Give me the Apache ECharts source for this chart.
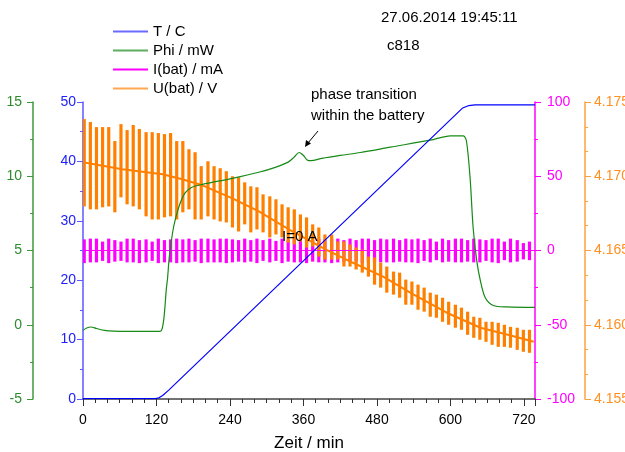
<!DOCTYPE html>
<html>
<head>
<meta charset="utf-8">
<script src="https://cdn.jsdelivr.net/npm/echarts@6/dist/echarts.min.js"></script>
<style>
  html, body { margin: 0; padding: 0; background: #fff; }
  #chart { width: 625px; height: 452px; }
</style>
</head>
<body>
<div id="chart"></div>
<script>
// T / C  [min, C]
const tempPts = [[0, 0.05], [118, 0.05], [124, 0.2], [130, 0.6], [140, 1.5], [620, 49.0], [630, 49.4], [640, 49.5], [738, 49.5]]
// Phi / mW  [min, mW]
const phiPts = [[0, -0.38], [6, -0.22], [13, -0.15], [22, -0.25], [35, -0.38], [50, -0.43], [100, -0.45], [126, -0.45],
  [129, -0.3], [132, 0.4], [134, 1.3], [136, 2.4], [138, 3.1], [141, 4.6], [148, 6.6], [157, 8.0], [167, 8.9], [178, 9.26],
  [195, 9.45], [244, 9.86], [287, 10.27], [314, 10.6], [335, 10.95], [345, 11.3], [353, 11.6], [360, 11.4], [366, 11.1],
  [372, 11.05], [390, 11.2], [420, 11.4], [453, 11.6], [502, 11.96], [567, 12.43], [600, 12.72], [621, 12.72], [626, 12.39],
  [632, 9.91], [637, 6.53], [643, 4.28], [649, 2.93], [657, 1.8], [670, 1.3], [692, 1.2], [738, 1.17]]
// U(bat) / V, mean trace
const uPts = [[0, 4.17095], [64, 4.17047], [130, 4.17013], [162, 4.1698], [195, 4.16939], [244, 4.16851], [287, 4.16764],
  [342, 4.16628], [396, 4.16507], [440, 4.16419], [490, 4.16324], [540, 4.16203], [594, 4.16081], [649, 4.1598],
  [700, 4.15926], [736, 4.15885]]
// I(bat) / mA, trace between pulses
const iPts = [[0, 0], [738, 0]]

// current pulses: time, U range, I range
const pulseT = [2, 12, 22, 32, 42, 52, 62, 72, 82, 92,
  103, 113, 123, 133, 143, 153, 163, 173, 183, 193,
  204, 214, 224, 234, 244, 254, 264, 274, 284, 294,
  305, 315, 325, 335, 345, 355, 365, 375, 385, 395,
  406, 416, 426, 436, 446, 456, 466, 476, 486, 496,
  507, 517, 527, 537, 547, 557, 567, 577, 587, 597,
  608, 618, 628, 638, 648, 658, 668, 678, 688, 698,
  709, 719, 729]
const uHi = [4.17385, 4.17365, 4.17331, 4.17331, 4.17331, 4.17237, 4.17351, 4.17311, 4.17345, 4.17318,
  4.17297, 4.17297, 4.17291, 4.17284, 4.17291, 4.17237, 4.17237, 4.17182, 4.17162, 4.17068,
  4.17101, 4.17068, 4.17054, 4.17034, 4.17000, 4.16993, 4.16959, 4.16932, 4.16926, 4.16878,
  4.16865, 4.16845, 4.16811, 4.16791, 4.16777, 4.16743, 4.16723, 4.16676, 4.16655, 4.16608,
  4.16608, 4.16561, 4.16561, 4.16541, 4.16520, 4.16507, 4.16459, 4.16453, 4.16419, 4.16392,
  4.16358, 4.16351, 4.16304, 4.16291, 4.16270, 4.16250, 4.16216, 4.16203, 4.16182, 4.16155,
  4.16135, 4.16115, 4.16088, 4.16054, 4.16047, 4.16020, 4.16020, 4.16013, 4.16000, 4.15986,
  4.15980, 4.15966, 4.15966]
const uLo = [4.16797, 4.16777, 4.16777, 4.16791, 4.16797, 4.16757, 4.16858, 4.16811, 4.16797, 4.16777,
  4.16730, 4.16709, 4.16709, 4.16723, 4.16730, 4.16709, 4.16757, 4.16777, 4.16709, 4.16709,
  4.16730, 4.16709, 4.16696, 4.16689, 4.16655, 4.16628, 4.16676, 4.16622, 4.16642, 4.16622,
  4.16588, 4.16608, 4.16588, 4.16554, 4.16541, 4.16561, 4.16520, 4.16527, 4.16459, 4.16439,
  4.16439, 4.16439, 4.16392, 4.16392, 4.16372, 4.16351, 4.16324, 4.16270, 4.16250, 4.16216,
  4.16203, 4.16182, 4.16135, 4.16135, 4.16101, 4.16088, 4.16054, 4.16047, 4.16020, 4.16000,
  4.15980, 4.15966, 4.15932, 4.15912, 4.15899, 4.15885, 4.15865, 4.15851, 4.15851, 4.15845,
  4.15831, 4.15818, 4.15811]
const iHi = [7.5, 8, 8, 6, 8, 7, 6, 8, 8, 7,
  7.5, 6, 8, 7, 7.5, 8, 7.5, 8, 7, 8,
  8, 7.5, 8, 8, 7.5, 7, 8, 7, 8, 7,
  8, 6.5, 8, 7, 8, 7.5, 8, 7, 8, 7.5,
  8, 8, 7, 8, 7, 8, 8, 7, 8, 7.5,
  8, 7, 8, 7.5, 8, 7, 8, 6, 8, 7,
  8, 8, 7, 8, 7.5, 7, 8, 8, 6, 8,
  7, 5, 6]
const iLo = [-8.5, -8, -8, -7, -8.5, -7.5, -7, -8, -8, -8.5,
  -8, -7, -8.5, -8, -8, -8.5, -8, -8, -7.5, -8.5,
  -8, -8, -8, -8.5, -8, -7.5, -8, -7.5, -8.5, -7,
  -8, -7, -8.5, -7.5, -8, -8, -8.5, -7.5, -8, -8,
  -8.5, -8, -7.5, -8, -7.5, -8.5, -8, -7.5, -8, -8,
  -8, -7.5, -8, -8, -8.5, -7, -8, -6.5, -8, -7.5,
  -8, -8, -7.5, -8, -8, -7, -8, -8.5, -6.5, -8,
  -7.5, -6, -6.5]

const FONT = 'Liberation Sans, Arial, sans-serif'
const C_T = '#0000ff'
const C_PHI = '#168a16'
const C_I = '#ff00ff'
const C_U = '#ff8000'

const uPulses = pulseT.map((t, i) => [t, uHi[i], uLo[i]])
const iPulses = pulseT.map((t, i) => [t, iHi[i], iLo[i]])

// one vertical bar per pulse, from high to low value
function stripe (color, w) {
  return function (params, api) {
    const a = api.coord([api.value(0), api.value(1)])
    const b = api.coord([api.value(0), api.value(2)])
    return {
      type: 'rect',
      shape: { x: a[0] - w / 2, y: a[1], width: w, height: b[1] - a[1] },
      style: { fill: color }
    }
  }
}

function yAx (o) {
  return {
    type: 'value',
    position: o.pos,
    offset: o.offset,
    min: o.min,
    max: o.max,
    interval: o.interval,
    splitLine: { show: false },
    axisLine: { show: true, onZero: false, lineStyle: { color: o.line, width: 1.5 } },
    axisTick: { show: true, length: 6, lineStyle: { color: o.line } },
    minorTick: { show: true, splitNumber: o.minor, length: 3, lineStyle: { color: o.line } },
    axisLabel: {
      color: o.text, fontSize: 14, fontFamily: FONT, margin: o.margin,
      formatter: o.fmt
    }
  }
}

const chart = echarts.init(document.getElementById('chart'))
chart.setOption({
  animation: false,
  backgroundColor: '#fff',
  grid: { left: 83, right: 90, top: 102, bottom: 53, outerBoundsMode: 'none' },
  legend: {
    orient: 'vertical',
    left: 108,
    top: 19,
    itemWidth: 35,
    itemHeight: 2,
    itemGap: 4,
    icon: 'rect',
    data: ['T / C', 'Phi / mW', 'I(bat) / mA', 'U(bat) / V'],
    textStyle: { fontSize: 15, lineHeight: 15, color: '#000', fontFamily: FONT }
  },
  xAxis: {
    type: 'value',
    min: 0,
    max: 738,
    interval: 120,
    name: 'Zeit / min',
    nameLocation: 'middle',
    nameGap: 36,
    nameTextStyle: { fontSize: 17, color: '#000', fontFamily: FONT },
    splitLine: { show: false },
    axisLine: { onZero: false, lineStyle: { color: '#444', width: 1.5 } },
    axisTick: { length: 7, lineStyle: { color: '#333' } },
    minorTick: { show: true, splitNumber: 6, length: 4, lineStyle: { color: '#333' } },
    axisLabel: { color: '#000', fontSize: 14, fontFamily: FONT, margin: 14 }
  },
  yAxis: [
    yAx({ pos: 'left', offset: 0, min: 0, max: 50, interval: 10, minor: 2, line: '#5a5aff', text: '#2020ff', margin: 7 }),
    yAx({ pos: 'left', offset: 50, min: -5, max: 15, interval: 5, minor: 2, line: '#3c993c', text: '#2e8b2e', margin: 11 }),
    yAx({ pos: 'right', offset: 0, min: -100, max: 100, interval: 50, minor: 2, line: '#ff00ff', text: '#ff00ff', margin: 12 }),
    yAx({ pos: 'right', offset: 50, min: 4.155, max: 4.175, interval: 0.005, minor: 3, line: '#ffa040', text: '#ff9020', margin: 9,
      fmt: v => v.toFixed(3) })
  ],
  series: [
    {
      name: 'I(bat) / mA', type: 'line', yAxisIndex: 2, data: iPts, showSymbol: false,
      lineStyle: { color: C_I, width: 1.2 }, itemStyle: { color: C_I }
    },
    {
      type: 'custom', yAxisIndex: 2, data: iPulses, renderItem: stripe(C_I, 3.2),
      encode: { x: 0, y: [1, 2] }, clip: true, silent: true
    },
    {
      type: 'custom', yAxisIndex: 3, data: uPulses, renderItem: stripe(C_U, 3.2),
      encode: { x: 0, y: [1, 2] }, clip: true, silent: true
    },
    {
      name: 'U(bat) / V', type: 'line', yAxisIndex: 3, data: uPts, showSymbol: false,
      lineStyle: { color: C_U, width: 2 }, itemStyle: { color: '#ffa850' }
    },
    {
      name: 'Phi / mW', type: 'line', yAxisIndex: 1, data: phiPts, showSymbol: false, smooth: 0.3,
      lineStyle: { color: C_PHI, width: 1.2 }, itemStyle: { color: '#5fae5f' }
    },
    {
      name: 'T / C', type: 'line', yAxisIndex: 0, data: tempPts, showSymbol: false,
      lineStyle: { color: C_T, width: 1.2 }, itemStyle: { color: '#6a6aff' }
    }
  ],
  graphic: [
    { type: 'text', left: 381, top: 10, style: { text: '27.06.2014 19:45:11', font: '15px ' + FONT, fill: '#000' } },
    { type: 'text', left: 387, top: 38, style: { text: 'c818', font: '15px ' + FONT, fill: '#000' } },
    { type: 'text', left: 311, top: 87, style: { text: 'phase transition', font: '15px ' + FONT, fill: '#000' } },
    { type: 'text', left: 311, top: 108, style: { text: 'within the battery', font: '15px ' + FONT, fill: '#000' } },
    { type: 'text', left: 282, top: 229, z: 100, style: { text: 'I=0 A', font: '15px ' + FONT, fill: '#000' } },
    { type: 'line', shape: { x1: 318, y1: 131, x2: 308, y2: 143 }, style: { stroke: '#000', lineWidth: 1 } },
    { type: 'polygon', shape: { points: [[305, 147], [306, 140], [311, 143.5]] }, style: { fill: '#000' } }
  ]
})
</script>
</body>
</html>
